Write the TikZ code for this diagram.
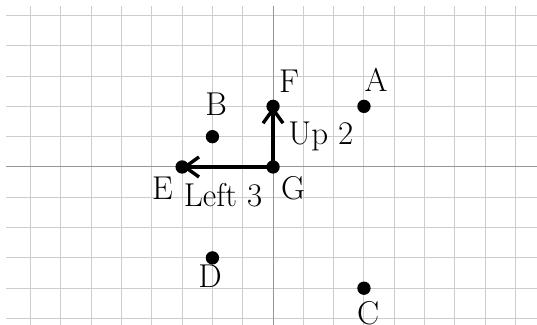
\documentclass[tikz,border=0pt]{standalone}
\usetikzlibrary{arrows.meta}
\definecolor{gridc}{RGB}{205,205,205}
\definecolor{axisc}{RGB}{150,150,150}
\begin{document}
\begin{tikzpicture}[
  dot/.style={circle,fill=black,inner sep=0pt,minimum size=0.44cm},
  lbl/.style={inner sep=0pt,font=\fontsize{31}{36}\selectfont},
  mover/.style={line width=3.2pt,-{Straight Barb[length=4.6mm,width=6.6mm,line width=3.2pt]}},
]
\useasboundingbox (-9.01,-5.21) rectangle (8.71,5.51);
\draw[gridc,line width=0.9pt] (-8.8,-5.3) grid (8.8,5.3);
\draw[axisc,line width=0.9pt] (-8.8,0) -- (8.8,0);
\draw[axisc,line width=0.9pt] (0,-5.3) -- (0,5.3);
% points
\node[dot] (A) at (3,2) {};
\node[dot] (B) at (-2,1) {};
\node[dot] (C) at (3,-4) {};
\node[dot] (D) at (-2,-3) {};
\node[dot] (E) at (-3,0) {};
\node[dot] (F) at (0,2) {};
\node[dot] (G) at (0,0) {};
% moves
\draw[mover] (G.center) -- (E.center);
\draw[mover] (G.center) -- (F.center);
% labels
\node[lbl] (lA) at (3.40,2.86) {A};
\node[lbl] (lB) at (-1.88,2.06) {B};
\node[lbl] (lC) at (3.14,-4.82) {C};
\node[lbl] (lD) at (-2.08,-3.62) {D};
\node[lbl] (lE) at (-3.65,-0.69) {E};
\node[lbl] (lF) at (0.53,2.83) {F};
\node[lbl] (lG) at (0.66,-0.71) {G};
\node[lbl] (lLeft) at (-1.65,-0.92) {Left 3};
\node[lbl] (lUp) at (1.58,1.01) {Up 2};
\end{tikzpicture}
\end{document}
